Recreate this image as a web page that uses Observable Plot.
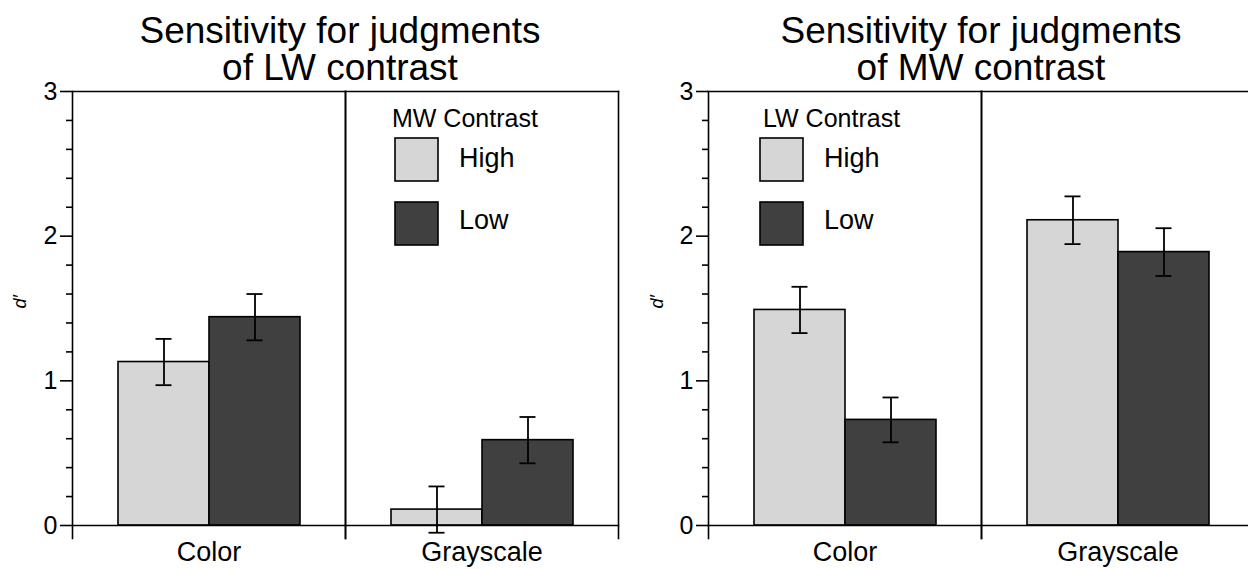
<!DOCTYPE html>
<html><head><meta charset="utf-8">
<script src="https://cdn.jsdelivr.net/npm/d3@7"></script>
<script src="https://cdn.jsdelivr.net/npm/@observablehq/plot@0.6"></script>
<style>
html,body{margin:0;padding:0;background:#fff;overflow:hidden;}
#wrap{position:relative;width:1248px;height:569px;overflow:hidden;}
#left{position:absolute;left:0;top:0;width:624px}
#right{position:absolute;left:624px;top:0;width:640px}
svg{overflow:visible;max-width:none !important}
</style></head>
<body><div id="wrap"><div id="left"></div><div id="right"></div></div>
<script>
// ---- data ----
const categories = ["Color", "Grayscale"];
const levels = ["High", "Low"];
const yTicksMajor = [0, 1, 2, 3];
const yTicksMinor = [0.2,0.4,0.6,0.8,1.2,1.4,1.6,1.8,2.2,2.4,2.6,2.8];

// Panel 1: sensitivity for LW contrast, split by MW contrast
const lwTitle = ["Sensitivity for judgments", "of LW contrast"];
const lwLegendTitle = "MW Contrast";
const lwHigh = [1.13, 0.11];
const lwLow = [1.44, 0.59];
const lwHighErr = [0.16, 0.16];
const lwLowErr = [0.16, 0.16];

// Panel 2: sensitivity for MW contrast, split by LW contrast
const mwTitle = ["Sensitivity for judgments", "of MW contrast"];
const mwLegendTitle = "LW Contrast";
const mwHigh = [1.49, 2.11];
const mwLow = [0.73, 1.89];
const mwHighErr = [0.16, 0.165];
const mwLowErr = [0.155, 0.165];

const fills = ["#d6d6d6", "#404040"];
const FONT = "'Liberation Sans', Arial, Helvetica, sans-serif";

function buildRows(high, low, highErr, lowErr) {
  const rows = [];
  categories.forEach((c, i) => {
    rows.push({category: c, level: "High", value: high[i], err: highErr[i]});
    rows.push({category: c, level: "Low", value: low[i], err: lowErr[i]});
  });
  return rows;
}

function panel(opts) {
  const rows = buildRows(opts.high, opts.low, opts.highErr, opts.lowErr);
  const svg = Plot.plot({
    width: opts.width, height: 569,
    marginLeft: opts.marginLeft, marginRight: opts.marginRight,
    marginTop: 91, marginBottom: 44,
    style: {fontFamily: FONT, color: "#000", background: "transparent"},
    fx: {domain: categories, padding: 0, label: null},
    x: {domain: levels, paddingInner: 0, paddingOuter: 0.5, axis: null},
    y: {domain: [0, 3], label: null},
    color: {domain: levels, range: fills},
    marks: [
      Plot.barY(rows, {fx: "category", x: "level", y: "value", fill: "level", stroke: "#000", strokeWidth: 1.6}),
      Plot.ruleX(rows, {fx: "category", x: "level", y1: d => d.value - d.err, y2: d => d.value + d.err, stroke: "#000", strokeWidth: 1.8}),
      Plot.tickY(rows, {fx: "category", x: "level", y: d => d.value - d.err, insetLeft: 37.5, insetRight: 37.5, stroke: "#000", strokeWidth: 1.8}),
      Plot.tickY(rows, {fx: "category", x: "level", y: d => d.value + d.err, insetLeft: 37.5, insetRight: 37.5, stroke: "#000", strokeWidth: 1.8}),
      Plot.frame({anchor: "top", stroke: "#000", strokeWidth: 1.6}),
      Plot.frame({anchor: "bottom", stroke: "#000", strokeWidth: 1.6}),
      Plot.frame({anchor: "left", insetBottom: -13, stroke: "#000", strokeWidth: 1.6}),
      Plot.frame({anchor: "right", insetBottom: -13, stroke: "#000", strokeWidth: 1.6}),
      Plot.axisY({ticks: yTicksMajor, tickSize: 12, tickPadding: 3, fontSize: 25, label: null, strokeWidth: 1.6, tickFormat: d => String(d)}),
      Plot.axisY({ticks: yTicksMinor, tickSize: 6, tickFormat: () => "", label: null, strokeWidth: 1.6}),
      Plot.axisFx({anchor: "bottom", tickSize: 0, tickPadding: 16, fontSize: 27, label: null}),
      Plot.text(["d′"], {fx: ["Color"], frameAnchor: "left", dx: opts.labelDx, rotate: -90, fontStyle: "italic", fontSize: 18})
    ]
  });
  const s = d3.select(svg);
  // title
  const t = s.append("text").attr("text-anchor", "middle").attr("font-family", FONT)
    .attr("font-size", 37).attr("fill", "#000");
  opts.title.forEach((line, i) => {
    t.append("tspan").attr("x", opts.titleX).attr("y", 43 + i * 37).text(line);
  });
  // legend
  const g = s.append("g").attr("font-family", FONT).attr("fill", "#000").attr("text-anchor", "start");
  g.append("text").attr("x", opts.legendTitleX).attr("y", 127).attr("font-size", 25).text(opts.legendTitle);
  levels.forEach((lv, i) => {
    g.append("rect").attr("x", opts.swatchX).attr("y", 138 + i * 64).attr("width", 43).attr("height", 43)
      .attr("fill", fills[i]).attr("stroke", "#000").attr("stroke-width", 1.6);
    g.append("text").attr("x", opts.swatchX + 64).attr("y", 167 + i * 62).attr("font-size", 27).text(lv);
  });
  return svg;
}

document.getElementById("left").appendChild(panel({
  high: lwHigh, low: lwLow, highErr: lwHighErr, lowErr: lwLowErr,
  title: lwTitle, legendTitle: lwLegendTitle,
  width: 624, marginLeft: 72, marginRight: 6, labelDx: -52,
  titleX: 340, legendTitleX: 392, swatchX: 395
}));
document.getElementById("right").appendChild(panel({
  high: mwHigh, low: mwLow, highErr: mwHighErr, lowErr: mwLowErr,
  title: mwTitle, legendTitle: mwLegendTitle,
  width: 640, marginLeft: 84, marginRight: 10, labelDx: -51,
  titleX: 357, legendTitleX: 139, swatchX: 136
}));
</script>
</body></html>
